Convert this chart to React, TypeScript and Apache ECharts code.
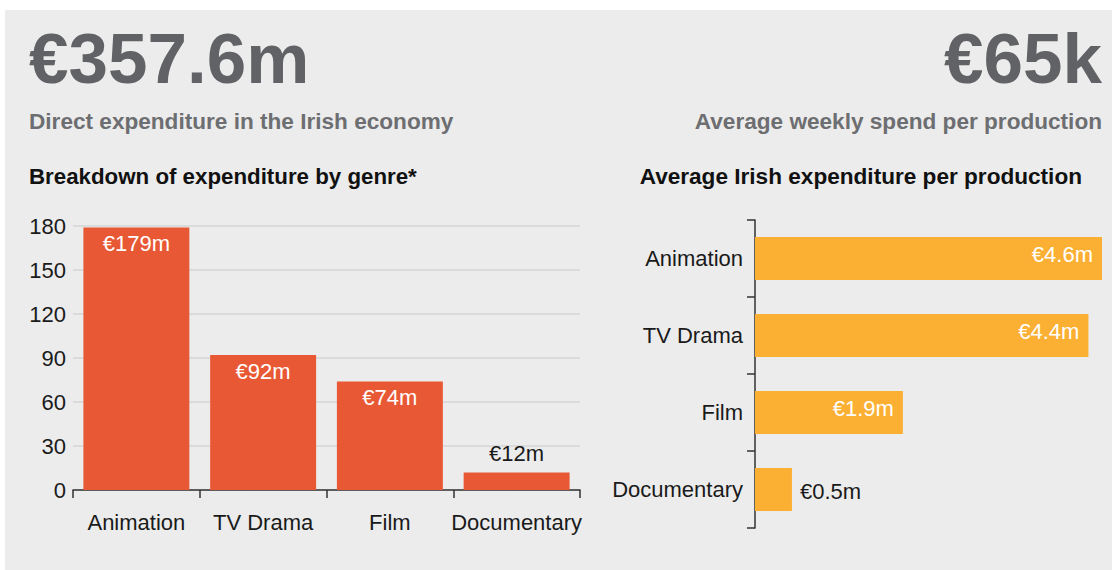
import React, { useEffect, useRef } from "react";
import * as echarts from "echarts";

const genres = ["Animation", "TV Drama", "Film", "Documentary"];
const totalSpend = [179, 92, 74, 12];
const totalLabels = ["€179m", "€92m", "€74m", "€12m"];
const avgSpend = [4.6, 4.42, 1.96, 0.49];
const avgLabels = ["€4.6m", "€4.4m", "€1.9m", "€0.5m"];
const headlineLeft = "€357.6m";
const headlineRight = "€65k";
const subLeft = "Direct expenditure in the Irish economy";
const subRight = "Average weekly spend per production";
const titleLeft = "Breakdown of expenditure by genre*";
const titleRight = "Average Irish expenditure per production";

const FONT = "'Liberation Sans', Arial, Helvetica, sans-serif";
const RED = "#E85835";
const YELLOW = "#FBB034";
const DARK = "#1a1a1a";

export default function App() {
  const ref = useRef<HTMLDivElement>(null);
  useEffect(() => {
    if (!ref.current) return;
    const chart = echarts.init(ref.current, undefined, { renderer: "svg" });
    const leftData = totalSpend.map((v) => ({
      value: v,
      label:
        v < 20
          ? { position: "top", distance: 8, color: DARK }
          : { position: "insideTop", distance: 5, color: "#fff" },
    }));
    const rightData = avgSpend.map((v) => ({
      value: v,
      label:
        v < 1
          ? { position: "right", distance: 8, color: DARK, offset: [0, 2] }
          : { position: "insideRight", distance: 9, color: "#fff", offset: [0, -4] },
    }));
    const option: any = {
      animation: false,
      textStyle: { fontFamily: FONT },
      graphic: [
        { type: "rect", z: -10, shape: { x: 5, y: 10, width: 1107, height: 560 }, style: { fill: "#ececec" }, silent: true },
        { type: "text", x: 29, y: 58, style: { text: headlineLeft, fontSize: 71, fontWeight: "bold", fill: "#616265", fontFamily: FONT, verticalAlign: "middle", align: "left" } },
        { type: "text", x: 1102, y: 58, style: { text: headlineRight, fontSize: 71, fontWeight: "bold", fill: "#616265", fontFamily: FONT, verticalAlign: "middle", align: "right" } },
        { type: "text", x: 29, y: 121, style: { text: subLeft, fontSize: 22.6, fontWeight: "bold", fill: "#6d6e71", fontFamily: FONT, verticalAlign: "middle", align: "left" } },
        { type: "text", x: 1102, y: 121, style: { text: subRight, fontSize: 22.6, fontWeight: "bold", fill: "#6d6e71", fontFamily: FONT, verticalAlign: "middle", align: "right" } },
        { type: "text", x: 29, y: 176, style: { text: titleLeft, fontSize: 22.3, fontWeight: "bold", fill: "#111", fontFamily: FONT, verticalAlign: "middle", align: "left" } },
        { type: "text", x: 1082, y: 176, style: { text: titleRight, fontSize: 22.6, fontWeight: "bold", fill: "#111", fontFamily: FONT, verticalAlign: "middle", align: "right" } },
      ],
      grid: [
        { left: 73, right: 532, top: 226, bottom: 80 },
        { left: 755, right: 10, top: 220, bottom: 42 },
      ],
      xAxis: [
        {
          type: "category",
          gridIndex: 0,
          data: genres,
          axisLine: { lineStyle: { color: "#333", width: 1.5 } },
          axisTick: { show: true, length: 8, lineStyle: { color: "#333", width: 1.5 } },
          axisLabel: { color: DARK, fontSize: 22, margin: 21, fontFamily: FONT, interval: 0 },
        },
        { type: "value", gridIndex: 1, min: 0, max: 4.6, show: false },
      ],
      yAxis: [
        {
          type: "value",
          gridIndex: 0,
          min: 0,
          max: 180,
          interval: 30,
          axisLine: { show: false },
          axisTick: { show: false },
          axisLabel: { color: DARK, fontSize: 22, margin: 7, fontFamily: FONT },
          splitLine: { lineStyle: { color: "#d6d6d6", width: 1.5 } },
        },
        {
          type: "category",
          gridIndex: 1,
          data: genres,
          inverse: true,
          axisLine: { lineStyle: { color: "#333", width: 1.5 } },
          axisTick: { show: true, length: 8, lineStyle: { color: "#333", width: 1.5 } },
          axisLabel: { color: DARK, fontSize: 22, margin: 12, fontFamily: FONT, interval: 0 },
        },
      ],
      series: [
        {
          type: "bar",
          xAxisIndex: 0,
          yAxisIndex: 0,
          data: leftData,
          barCategoryGap: "16.4%",
          itemStyle: { color: RED },
          label: {
            show: true,
            fontSize: 22,
            fontFamily: FONT,
            formatter: (p: any) => totalLabels[p.dataIndex],
          },
        },
        {
          type: "bar",
          xAxisIndex: 1,
          yAxisIndex: 1,
          data: rightData,
          barCategoryGap: "44%",
          itemStyle: { color: YELLOW },
          label: {
            show: true,
            fontSize: 22,
            fontFamily: FONT,
            formatter: (p: any) => avgLabels[p.dataIndex],
          },
        },
      ],
    };
    chart.setOption(option);
    return () => chart.dispose();
  }, []);
  return (
    <div
      ref={ref}
      style={{ position: "absolute", left: 0, top: 0, width: 1112, height: 570 }}
    />
  );
}
